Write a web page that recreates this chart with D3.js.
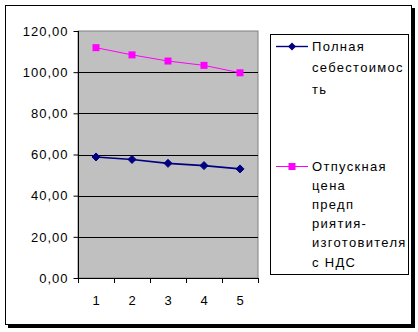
<!DOCTYPE html>
<html><head><meta charset="utf-8">
<script src="https://cdn.jsdelivr.net/npm/d3@7"></script>
<style>
body{margin:0;background:#fff;}
svg{display:block;font-family:"Liberation Sans",Arial,sans-serif;}
</style></head>
<body>
<svg id="c" width="418" height="332"></svg>
<script>
const categories = ["1","2","3","4","5"];
const costValues = [58.8, 57.6, 55.7, 54.6, 53.0];
const priceValues = [111.9, 108.4, 105.4, 103.3, 99.7];
const yTicks = [0,20,40,60,80,100,120];
const legendCost = ["Полная","себестоимос","ть"];
const legendPrice = ["Отпускная","цена","предп","риятия-","изготовителя","с НДС"];

const svg = d3.select("#c");
// chart area with shadow
svg.append("rect").attr("x",8).attr("y",8).attr("width",407).attr("height",320).attr("fill","#000");
svg.append("rect").attr("x",5.5).attr("y",5.5).attr("width",406).attr("height",319).attr("fill","#fff").attr("stroke","#000");

const L=78, R=258, T=31, B=278;
const x = d3.scaleBand().domain(categories).range([L,R]);
const y = d3.scaleLinear().domain([0,120]).range([B,T]);

svg.append("rect").attr("x",L).attr("y",T).attr("width",R-L).attr("height",B-T).attr("fill","#C0C0C0").attr("stroke","#808080");

svg.append("g").selectAll("line").data(yTicks.filter(d=>d>0&&d<120)).join("line")
  .attr("x1",L).attr("x2",R).attr("y1",d=>Math.round(y(d))+0.5).attr("y2",d=>Math.round(y(d))+0.5)
  .attr("stroke","#000");

const yAxis = svg.append("g").attr("transform",`translate(${L+0.5},0)`)
  .call(d3.axisLeft(y).tickValues(yTicks).tickSize(5).tickPadding(6).tickFormat(d=>d3.format(".2f")(d).replace(".",",")));
yAxis.select(".domain").attr("stroke","#000").attr("d",`M0,${T}V${B+0.5}`);
yAxis.selectAll(".tick line").attr("stroke","#000");
yAxis.selectAll("text").attr("font-size","13px").attr("fill","#000").attr("letter-spacing","1px").attr("dx","1px")
  .attr("font-family","Liberation Sans, Arial, sans-serif");
yAxis.attr("font-family",null);

const xAxis = svg.append("g").attr("transform",`translate(0,${B+0.5})`)
  .call(d3.axisBottom(x).tickSize(0).tickPadding(17));
xAxis.select(".domain").attr("stroke","#000").attr("d",`M${L},0H${R+0.5}`);
xAxis.selectAll("text").attr("font-size","13px").attr("fill","#000").attr("font-family","Liberation Sans, Arial, sans-serif");
xAxis.attr("font-family",null);
// boundary tick marks
const bounds = categories.map(c=>x(c)).concat([R]);
svg.append("g").selectAll("line").data(bounds).join("line")
  .attr("x1",d=>Math.round(d)+0.5).attr("x2",d=>Math.round(d)+0.5).attr("y1",B).attr("y2",B+5).attr("stroke","#000");

const cx = c => x(c)+x.bandwidth()/2;
const line = d3.line().x((d,i)=>cx(categories[i])).y(d=>y(d));

svg.append("path").datum(costValues).attr("d",line).attr("fill","none").attr("stroke","#000080").attr("stroke-width",1.6);
svg.append("path").datum(priceValues).attr("d",line).attr("fill","none").attr("stroke","#FF00FF").attr("stroke-width",1);

const diamond = (px,py,s) => `M${px},${py-s}L${px+s},${py}L${px},${py+s}L${px-s},${py}Z`;
svg.append("g").selectAll("path").data(costValues).join("path")
  .attr("d",(d,i)=>diamond(cx(categories[i]),y(d),4)).attr("fill","#000080").attr("stroke","#000080");
svg.append("g").selectAll("rect").data(priceValues).join("rect")
  .attr("x",(d,i)=>cx(categories[i])-3.5).attr("y",d=>y(d)-3.5).attr("width",7).attr("height",7)
  .attr("fill","#FF00FF");

// legend
svg.append("rect").attr("x",270.5).attr("y",34.5).attr("width",138).attr("height",240).attr("fill","#fff").attr("stroke","#000");
function legendEntry(lines, y0, step, color, marker){
  svg.append("line").attr("x1",276).attr("x2",308).attr("y1",y0+0.5).attr("y2",y0+0.5).attr("stroke",color).attr("stroke-width",color==="#000080"?1.4:1);
  if(marker==="d") svg.append("path").attr("d",diamond(292,y0+0.5,4)).attr("fill",color);
  else svg.append("rect").attr("x",288.5).attr("y",y0-3).attr("width",7).attr("height",7).attr("fill",color);
  svg.append("g").selectAll("text").data(lines).join("text")
    .attr("x",312).attr("y",(d,i)=>y0+i*step).attr("dy","0.35em")
    .attr("font-size","13px").attr("letter-spacing","1.3px").attr("fill","#000").text(d=>d);
}
legendEntry(legendCost, 46, 21.5, "#000080", "d");
legendEntry(legendPrice, 166, 19.2, "#FF00FF", "s");
</script>
</body></html>
